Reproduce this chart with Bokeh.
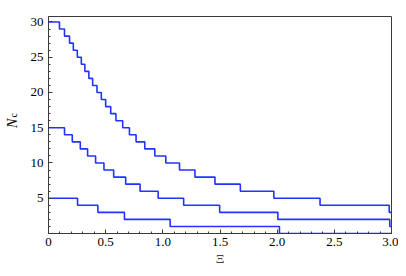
import math
from bokeh.plotting import figure
from bokeh.layouts import row
from bokeh.models import Range1d, FixedTicker
from bokeh.core.properties import value
from bokeh.embed import file_html
from bokeh.resources import INLINE

# Step positions (Xi where N_c drops by one) and levels
xi_top = [0.0, 0.096, 0.140, 0.184, 0.217, 0.252, 0.287, 0.318, 0.353, 0.386,
          0.424, 0.462, 0.500, 0.544, 0.590, 0.649, 0.708, 0.766, 0.842, 0.930,
          1.026, 1.146, 1.281, 1.456, 1.678, 1.971, 2.375, 2.980, 3.0]
n_top = [30, 29, 28, 27, 26, 25, 24, 23, 22, 21, 20, 19, 18, 17, 16, 15, 14,
         13, 12, 11, 10, 9, 8, 7, 6, 5, 4, 3, 3]

xi_mid = [0.0, 0.140, 0.208, 0.278, 0.342, 0.412, 0.485, 0.570, 0.675, 0.801,
          0.959, 1.182, 1.497, 2.006, 2.985, 3.0]
n_mid = [15, 14, 13, 12, 11, 10, 9, 8, 7, 6, 5, 4, 3, 2, 1, 1]

xi_low = [0.0, 0.254, 0.432, 0.664, 1.064, 2.020, 3.0]
n_low = [5, 4, 3, 2, 1, 0, 0]

x_ticks = [0, 0.5, 1.0, 1.5, 2.0, 2.5, 3.0]
x_tick_labels = ["0", "0.5", "1.0", "1.5", "2.0", "2.5", "3.0"]
y_ticks = [5, 10, 15, 20, 25, 30]

FONT = "Liberation Serif"
H = 268
LW = 24   # width of the strip holding the y-axis title

# --- strip with the rotated y-axis title N_c (pixel coordinates, y down) ---
lab = figure(width=LW, height=H, output_backend="svg", toolbar_location=None,
             x_range=Range1d(0, LW), y_range=Range1d(H, 0),
             x_axis_type=None, y_axis_type=None,
             min_border_left=0, min_border_right=0, min_border_top=0,
             min_border_bottom=0)
lab.grid.visible = False
lab.outline_line_color = None
lab.background_fill_color = "white"
lab.border_fill_color = "white"
lab.text(x=[12.0], y=[132], text=["N"], angle=math.pi / 2,
         text_font=value(FONT), text_font_size="14px",
         text_font_style="italic", text_align="center",
         text_baseline="middle", text_color="black")
lab.text(x=[12.5], y=[122], text=["c"], angle=math.pi / 2,
         text_font=value(FONT), text_font_size="10px",
         text_align="center", text_baseline="middle", text_color="black")

# --- main plot ---
p = figure(width=374, height=H, output_backend="svg", toolbar_location=None,
           x_range=Range1d(0, 3.0), y_range=Range1d(0, 30.78),
           min_border_left=24, min_border_right=7, min_border_top=16,
           min_border_bottom=35)
p.background_fill_color = "white"
p.border_fill_color = "white"
p.grid.visible = False
p.outline_line_color = "#3a3a3a"
p.outline_line_width = 1

line_color = "#2233ff"
for xs, ys in [(xi_top, n_top), (xi_mid, n_mid), (xi_low, n_low)]:
    p.step(xs, ys, mode="after", line_color=line_color, line_width=1.6)

for ax in (p.xaxis[0], p.yaxis[0]):
    ax.axis_line_color = "#3a3a3a"
    ax.major_tick_line_color = "#3a3a3a"
    ax.minor_tick_line_color = "#3a3a3a"
    ax.major_tick_in = 4
    ax.major_tick_out = 0
    ax.minor_tick_in = 2
    ax.minor_tick_out = 0
    ax.major_label_text_font = FONT
    ax.major_label_text_font_size = "13px"
    ax.major_label_text_color = "black"

p.xaxis.ticker = FixedTicker(ticks=x_ticks,
                             minor_ticks=[i / 10 for i in range(0, 31)])
p.xaxis.major_label_overrides = {t: l for t, l in zip(x_ticks, x_tick_labels)}
p.xaxis.major_label_standoff = 4
p.xaxis.axis_label = "Ξ"
p.xaxis.axis_label_text_font = FONT
p.xaxis.axis_label_text_font_size = "13.5px"
p.xaxis.axis_label_text_font_style = "normal"
p.xaxis.axis_label_standoff = 2

p.yaxis.ticker = FixedTicker(ticks=y_ticks, minor_ticks=list(range(0, 31)))
p.yaxis.major_label_standoff = 5

layout = row(lab, p, spacing=0)
open("out.html", "w").write(file_html(layout, INLINE))
